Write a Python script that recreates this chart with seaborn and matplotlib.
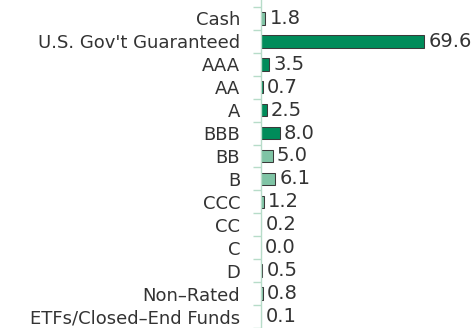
import matplotlib
matplotlib.use("Agg")
import matplotlib.pyplot as plt
import seaborn as sns
import pandas as pd
import numpy as np

categories = ["Cash", "U.S. Gov't Guaranteed", "AAA", "AA", "A", "BBB", "BB", "B",
              "CCC", "CC", "C", "D", "Non\u2013Rated", "ETFs/Closed\u2013End Funds"]
values = [1.8, 69.6, 3.5, 0.7, 2.5, 8.0, 5.0, 6.1, 1.2, 0.2, 0.0, 0.5, 0.8, 0.1]
groups = ["other", "ig", "ig", "ig", "ig", "ig", "hy", "hy",
          "hy", "hy", "hy", "hy", "other", "other"]

palette = {"ig": "#008c5a", "hy": "#7fc4a5", "other": "#7fc4a5"}

df = pd.DataFrame({"category": categories, "value": values, "group": groups})

sns.set_theme(style="white")
plt.rcParams["font.family"] = ["DejaVu Sans"]

fig = plt.figure(figsize=(4.77, 3.28), dpi=100)
ax = fig.add_axes([261 / 477, 0, 209 / 477, 1])

sns.barplot(data=df, x="value", y="category", hue="group", palette=palette,
            saturation=1, dodge=False, legend=False, width=0.55,
            edgecolor="#3a3a3a", linewidth=0.75, ax=ax, orient="h")

ax.set_xlim(0, 89)
ax.set_ylim(13.41, -0.80)
ax.set_xlabel("")
ax.set_ylabel("")
ax.set_xticks([])

for spine in ["top", "right", "bottom"]:
    ax.spines[spine].set_visible(False)
ax.spines["left"].set_color("#b7dcc9")
ax.spines["left"].set_linewidth(1.0)

ax.set_yticks(range(len(categories)))
ax.set_yticklabels(categories, fontsize=13, color="#333333")
ax.tick_params(axis="y", which="major", length=0, pad=15)
ax.set_yticks(np.arange(-0.5, len(categories) + 0.5, 1), minor=True)
ax.tick_params(axis="y", which="minor", length=6, width=1.0, color="#b7dcc9", left=True)

for i, v in enumerate(values):
    ax.annotate(f"{v:.1f}", xy=(v, i), xytext=(3, 0), textcoords="offset points",
                va="center", ha="left", fontsize=14, color="#333333")

fig.savefig("out.png", dpi=100)
